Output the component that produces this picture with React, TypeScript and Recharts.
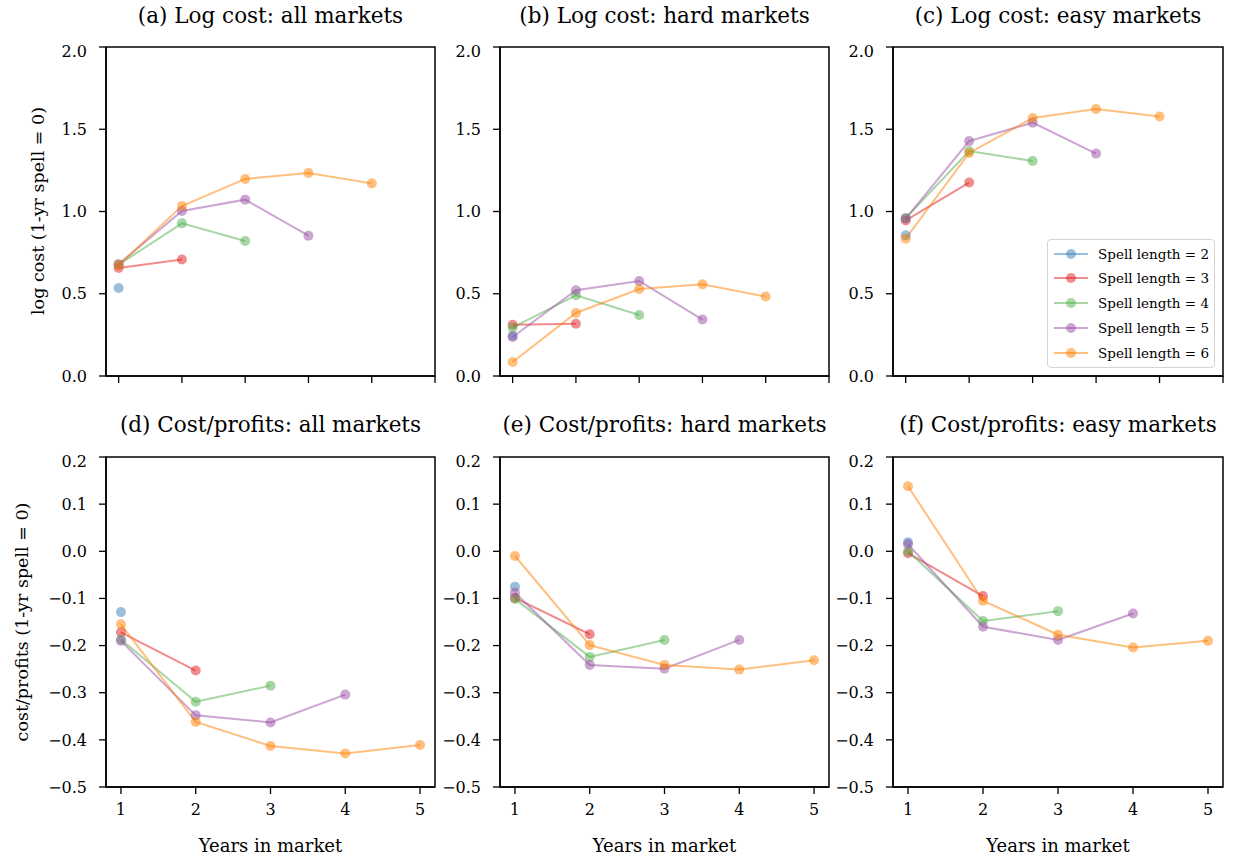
import React from "react";
import { Line, LineChart, ReferenceArea, XAxis, YAxis } from "recharts";

const SPELLS = [2, 3, 4, 5, 6];
const COLORS = ["#377eb8", "#e41a1c", "#4daf4a", "#984ea3", "#ff7f00"];
const YEARS = [1, 2, 3, 4, 5];

// one row per spell length, values by years in market
const LOG_ALL = [
  [0.535],
  [0.657, 0.708],
  [0.677, 0.928, 0.821],
  [0.68, 1.003, 1.072, 0.853],
  [0.673, 1.033, 1.198, 1.234, 1.171],
];
const LOG_HARD = [
  [0.245],
  [0.312, 0.318],
  [0.294, 0.491, 0.371],
  [0.237, 0.521, 0.578, 0.343],
  [0.085, 0.383, 0.529, 0.557, 0.483],
];
const LOG_EASY = [
  [0.855],
  [0.946, 1.176],
  [0.96, 1.368, 1.307],
  [0.957, 1.428, 1.54, 1.352],
  [0.835, 1.356, 1.568, 1.623, 1.577],
];
const CP_ALL = [
  [-0.129],
  [-0.172, -0.253],
  [-0.187, -0.319, -0.285],
  [-0.19, -0.348, -0.363, -0.304],
  [-0.155, -0.362, -0.413, -0.429, -0.411],
];
const CP_HARD = [
  [-0.075],
  [-0.099, -0.176],
  [-0.101, -0.224, -0.188],
  [-0.088, -0.241, -0.249, -0.188],
  [-0.01, -0.199, -0.241, -0.251, -0.231],
];
const CP_EASY = [
  [0.019],
  [-0.004, -0.095],
  [0.0, -0.148, -0.127],
  [0.015, -0.16, -0.188, -0.132],
  [0.138, -0.105, -0.177, -0.204, -0.19],
];

const LOG_TICKS = [0, 0.5, 1, 1.5, 2];
const CP_TICKS = [-0.5, -0.4, -0.3, -0.2, -0.1, 0, 0.1, 0.2];
const TOP_X_TICKS = [1, 2, 3, 4, 5, 6];

const FONT = "'DejaVu Serif', serif";
const TICK_FONT = 16;

const fmt = (v: number) => (v < 0 ? "\u2212" + Math.abs(v).toFixed(1) : v.toFixed(1));

function EmptyTick() {
  return <g />;
}

// legend box drawn in page coordinates (inside panel c)
function SpellLegend({ left, top }: { left: number; top: number }) {
  return (
    <div
      style={{
        position: "absolute",
        left,
        top,
        width: 166,
        height: 127,
        border: "1px solid #d4d4d4",
        borderRadius: 4,
        background: "rgba(255,255,255,0.85)",
      }}
    >
      {SPELLS.map((s, i) => (
        <div key={s} style={{ position: "absolute", left: 0, top: 13.5 + i * 24.75 - 10, height: 20, width: 166 }}>
          <svg width={46} height={20} style={{ position: "absolute", left: 0, top: 0 }}>
            <line x1={6} x2={40} y1={10} y2={10} stroke={COLORS[i]} strokeOpacity={0.5} strokeWidth={2} />
            <circle cx={23} cy={10} r={5} fill={COLORS[i]} fillOpacity={0.5} />
          </svg>
          <span
            style={{
              position: "absolute",
              left: 50,
              top: 0,
              lineHeight: "20px",
              fontSize: 13.5,
              whiteSpace: "nowrap",
            }}
          >
            Spell length = {s}
          </span>
        </div>
      ))}
    </div>
  );
}

function Panel({
  left,
  top,
  width,
  height,
  title,
  values,
  yDomain,
  yTicks,
  bottom,
}: {
  left: number;
  top: number;
  width: number;
  height: number;
  title: string;
  values: number[][];
  yDomain: [number, number];
  yTicks: number[];
  bottom: boolean;
}) {
  const data = YEARS.map((yr, i) => {
    const row: Record<string, number | null> = { year: yr };
    SPELLS.forEach((s, k) => {
      const v = values[k][i];
      row["s" + s] = v === undefined ? null : v;
    });
    return row;
  });
  const xDomain: [number, number] = bottom ? [0.8, 5.2] : [0.8, 6];
  const xTicks = bottom ? YEARS : TOP_X_TICKS;
  const axisH = bottom ? 70 : 10;
  const axisLine = { stroke: "#000", strokeWidth: 1.5 };
  const tickLine = { stroke: "#000", strokeWidth: 1.3 };
  return (
    <>
      <div
        style={{
          position: "absolute",
          left: left - 30,
          width: width + 60,
          top: bottom ? top - 45 : top - 44,
          textAlign: "center",
          fontSize: 21.5,
          lineHeight: "26px",
          whiteSpace: "nowrap",
        }}
      >
        {title}
      </div>
      <div style={{ position: "absolute", left: left - 70, top: top - 5 }}>
        <LineChart
          width={width + 80}
          height={height + 5 + axisH}
          data={data}
          margin={{ top: 5, right: 10, bottom: 0, left: 0 }}
        >
          <XAxis
            dataKey="year"
            type="number"
            domain={xDomain}
            ticks={xTicks}
            allowDataOverflow
            height={axisH}
            tick={bottom ? { fill: "#000", fontSize: TICK_FONT } : EmptyTick}
            tickSize={7}
            tickMargin={10}
            axisLine={axisLine}
            tickLine={tickLine}
            label={
              bottom
                ? { value: "Years in market", position: "insideBottom", offset: 5, fill: "#000", fontSize: 18 }
                : undefined
            }
          />
          <YAxis
            type="number"
            domain={yDomain}
            ticks={yTicks}
            allowDataOverflow
            width={70}
            tick={{ fill: "#000", fontSize: TICK_FONT }}
            tickFormatter={fmt}
            tickSize={7}
            tickMargin={12}
            axisLine={axisLine}
            tickLine={tickLine}
          />
          <ReferenceArea
            x1={xDomain[0]}
            x2={xDomain[1]}
            y1={yDomain[0]}
            y2={yDomain[1]}
            fill="none"
            stroke="#000"
            strokeWidth={1.5}
            ifOverflow="visible"
          />
          {SPELLS.map((s, k) => (
            <Line
              key={s}
              dataKey={"s" + s}
              name={"Spell length = " + s}
              stroke={COLORS[k]}
              strokeOpacity={0.5}
              strokeWidth={2}
              dot={{ r: 5, fill: COLORS[k], fillOpacity: 0.5, stroke: "none" }}
              activeDot={false}
              connectNulls={false}
              isAnimationActive={false}
            />
          ))}
        </LineChart>
      </div>
    </>
  );
}

function YLabel({ cx, cy, text }: { cx: number; cy: number; text: string }) {
  return (
    <div
      style={{
        position: "absolute",
        left: cx - 200,
        top: cy - 11,
        width: 400,
        height: 22,
        lineHeight: "22px",
        textAlign: "center",
        fontSize: 17.5,
        transform: "rotate(-90deg)",
        whiteSpace: "nowrap",
      }}
    >
      {text}
    </div>
  );
}

export default function App() {
  const cols = [106, 500, 893];
  const widths = [329, 329, 330];
  return (
    <div
      style={{
        position: "absolute",
        left: 0,
        top: 0,
        width: 1236,
        height: 861,
        background: "#fff",
        fontFamily: FONT,
        color: "#000",
      }}
    >
      <Panel left={cols[0]} top={47} width={widths[0]} height={329} title="(a) Log cost: all markets" values={LOG_ALL} yDomain={[0, 2]} yTicks={LOG_TICKS} bottom={false} />
      <Panel left={cols[1]} top={47} width={widths[1]} height={329} title="(b) Log cost: hard markets" values={LOG_HARD} yDomain={[0, 2]} yTicks={LOG_TICKS} bottom={false} />
      <Panel left={cols[2]} top={47} width={widths[2]} height={329} title="(c) Log cost: easy markets" values={LOG_EASY} yDomain={[0, 2]} yTicks={LOG_TICKS} bottom={false} />
      <Panel left={cols[0]} top={457} width={widths[0]} height={330} title="(d) Cost/profits: all markets" values={CP_ALL} yDomain={[-0.5, 0.2]} yTicks={CP_TICKS} bottom />
      <Panel left={cols[1]} top={457} width={widths[1]} height={330} title="(e) Cost/profits: hard markets" values={CP_HARD} yDomain={[-0.5, 0.2]} yTicks={CP_TICKS} bottom />
      <Panel left={cols[2]} top={457} width={widths[2]} height={330} title="(f) Cost/profits: easy markets" values={CP_EASY} yDomain={[-0.5, 0.2]} yTicks={CP_TICKS} bottom />
      <SpellLegend left={1047} top={239} />
      <YLabel cx={38} cy={211} text="log cost (1-yr spell = 0)" />
      <YLabel cx={22} cy={622} text="cost/profits (1-yr spell = 0)" />
    </div>
  );
}
